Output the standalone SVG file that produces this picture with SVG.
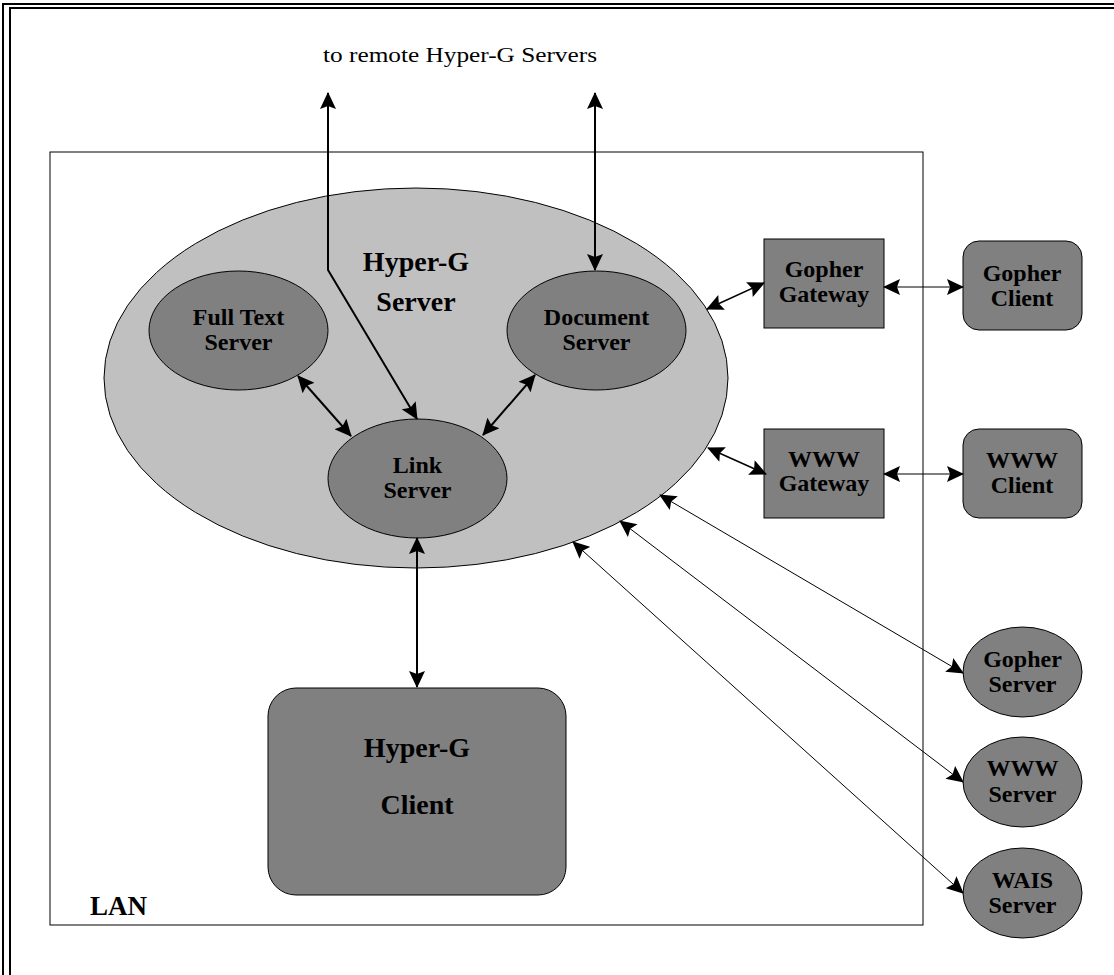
<svg xmlns="http://www.w3.org/2000/svg" width="1114" height="975" viewBox="0 0 1114 975">
<defs>
<marker id="ah" markerUnits="userSpaceOnUse" markerWidth="18" markerHeight="16" viewBox="0 0 17 16" refX="16" refY="8" orient="auto-start-reverse">
<path d="M0,0 L17,8 L0,16 L3,8 z" fill="#000"/>
</marker>
</defs>
<style>
.bg{fill:#fff}
.node{fill:#808080;stroke:#000;stroke-width:1}
.big{fill:#c0c0c0;stroke:#000;stroke-width:1}
.lbl{font-family:"Liberation Serif","Times New Roman",serif;font-weight:bold;font-size:24px;text-anchor:middle;fill:#000}
.lbig{font-family:"Liberation Serif","Times New Roman",serif;font-weight:bold;font-size:28px;text-anchor:middle;fill:#000}
.c{fill:none;stroke:#000;marker-start:url(#ah);marker-end:url(#ah)}
.t2{stroke-width:2}
.t15{stroke-width:1.5}
.t1{stroke-width:1}
</style>
<rect class="bg" x="0" y="0" width="1114" height="975"/>
<g id="frame" fill="none" stroke="#000" stroke-width="2">
<path d="M3,990 V4 H1130"/>
<path d="M10,990 V8 H1130"/>
</g>
<g id="lan">
<rect x="50" y="152" width="873" height="773" fill="none" stroke="#000" stroke-width="1"/>
<text x="90" y="915" font-family="'Liberation Serif','Times New Roman',serif" font-weight="bold" font-size="27">LAN</text>
</g>
<text id="remote-label" x="323" y="62" font-family="'Liberation Serif','Times New Roman',serif" font-size="21" textLength="274" lengthAdjust="spacingAndGlyphs">to remote Hyper-G Servers</text>
<g id="hyperg-server">
<ellipse class="big" cx="416" cy="378" rx="312" ry="190"/>
<text class="lbig" x="416" y="271">Hyper-G</text>
<text class="lbig" x="416" y="311">Server</text>
</g>
<g id="fulltext-server">
<ellipse class="node" cx="238.5" cy="330.5" rx="89.5" ry="59.5"/>
<text class="lbl" x="238.5" y="325">Full Text</text>
<text class="lbl" x="238.5" y="350">Server</text>
</g>
<g id="document-server">
<ellipse class="node" cx="596.5" cy="330.5" rx="89.5" ry="59.5"/>
<text class="lbl" x="596.5" y="325">Document</text>
<text class="lbl" x="596.5" y="350">Server</text>
</g>
<g id="link-server">
<ellipse class="node" cx="417.5" cy="478.5" rx="89.5" ry="59.5"/>
<text class="lbl" x="417.5" y="473">Link</text>
<text class="lbl" x="417.5" y="498">Server</text>
</g>
<g id="hyperg-client">
<rect class="node" x="268" y="688" width="298" height="207" rx="28" ry="28"/>
<text class="lbig" x="417" y="757">Hyper-G</text>
<text class="lbig" x="417" y="814">Client</text>
</g>
<g id="gopher-gateway">
<rect class="node" x="764" y="239" width="120" height="89"/>
<text class="lbl" x="824" y="277">Gopher</text>
<text class="lbl" x="824" y="302">Gateway</text>
</g>
<g id="www-gateway">
<rect class="node" x="764" y="429" width="120" height="89"/>
<text class="lbl" x="824" y="467">WWW</text>
<text class="lbl" x="824" y="491">Gateway</text>
</g>
<g id="gopher-client">
<rect class="node" x="963" y="241" width="119" height="89" rx="16" ry="16"/>
<text class="lbl" x="1022" y="281">Gopher</text>
<text class="lbl" x="1022" y="306">Client</text>
</g>
<g id="www-client">
<rect class="node" x="963" y="429" width="119" height="89" rx="16" ry="16"/>
<text class="lbl" x="1022" y="468">WWW</text>
<text class="lbl" x="1022" y="493">Client</text>
</g>
<g id="gopher-server">
<ellipse class="node" cx="1022.5" cy="672" rx="59.5" ry="45"/>
<text class="lbl" x="1022.5" y="667">Gopher</text>
<text class="lbl" x="1022.5" y="692">Server</text>
</g>
<g id="www-server">
<ellipse class="node" cx="1022.5" cy="782" rx="59.5" ry="45"/>
<text class="lbl" x="1022.5" y="776">WWW</text>
<text class="lbl" x="1022.5" y="802">Server</text>
</g>
<g id="wais-server">
<ellipse class="node" cx="1022.5" cy="893" rx="59.5" ry="45"/>
<text class="lbl" x="1022.5" y="888">WAIS</text>
<text class="lbl" x="1022.5" y="913">Server</text>
</g>
<g id="connectors">
<polyline class="c t2" points="328,93 328,270 417,419"/>
<line class="c t2" x1="595" y1="93" x2="595" y2="270"/>
<line class="c t2" x1="298" y1="376" x2="351" y2="436"/>
<line class="c t2" x1="535" y1="375" x2="483" y2="435"/>
<line class="c t2" x1="417" y1="538" x2="417" y2="687"/>
<line class="c t15" x1="707" y1="309" x2="764" y2="283"/>
<line class="c t15" x1="708" y1="448" x2="766" y2="474"/>
<line class="c t1" x1="884" y1="287" x2="963" y2="287"/>
<line class="c t1" x1="884" y1="474" x2="963" y2="474"/>
<line class="c t1" x1="660" y1="495" x2="963" y2="673"/>
<line class="c t1" x1="620" y1="521" x2="963" y2="782"/>
<line class="c t1" x1="573" y1="542" x2="963" y2="893"/>
</g>
</svg>
